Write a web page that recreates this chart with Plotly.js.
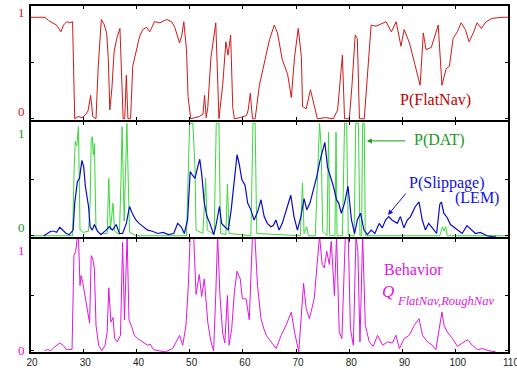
<!DOCTYPE html>
<html>
<head>
<meta charset="utf-8">
<script src="https://cdn.plot.ly/plotly-3.0.1.min.js"></script>
<style>html,body{margin:0;padding:0;background:#fff;}#chart{width:517px;height:374px;}</style>
</head>
<body>
<div id="chart"></div>
<script>
// ---- data ----
const xTicks = [20,30,40,50,60,70,80,90,100,110];

const flatX = [
20,22.8,23.5,24.2,25.0,25.8,26.3,26.9,27.5,28.0,
28.4,29.0,29.8,30.5,30.9,31.4,31.8,32.4,32.8,33.4,
33.9,34.4,34.7,35.0,35.4,35.8,36.3,36.9,37.2,37.5,
37.8,38.1,38.4,38.9,39.3,40.0,40.6,41.2,41.9,42.5,
43.4,44.4,45.7,46.6,47.2,48.1,48.5,48.9,49.4,49.7,
50.2,51.0,51.8,52.5,52.8,53.1,53.4,54.0,54.9,55.3,
55.5,56.2,56.8,57.2,57.7,58.1,58.4,59.5,60.7,61.0,
61.4,61.8,62.3,63.1,64.1,65.0,65.9,66.5,67.4,68.4,
69.1,69.7,70.4,71.0,71.2,71.9,72.7,73.4,74.0,75.5,
77.0,77.8,78.7,79.1,80.0,80.5,81.1,81.5,81.9,82.8,
84.1,85.0,86.0,86.9,87.9,88.8,89.7,90.3,91.3,92.2,
93.3,93.9,94.4,95.4,96.3,96.7,97.4,98.2,98.8,99.5,
100.3,101.0,101.8,102.5,103.3,104.0,104.8,105.7,106.8,108.7,110];
const flatY = [
0.91,0.91,0.88,0.86,0.84,0.78,0.84,0.87,0.86,0.87,
0.00,0.02,0.01,0.04,0.07,0.21,0.02,0.00,0.45,0.89,
0.85,0.77,0.55,0.08,0.28,0.60,0.72,0.81,0.30,0.00,
0.00,0.39,0.00,0.00,0.47,0.62,0.74,0.80,0.82,0.78,
0.87,0.86,0.89,0.87,0.82,0.68,0.74,0.87,0.62,0.20,
0.00,0.01,0.02,0.04,0.21,0.01,0.10,0.55,0.86,0.30,
0.00,0.30,0.69,0.57,0.75,0.10,0.00,0.01,0.03,0.08,
0.23,0.00,0.00,0.30,0.53,0.71,0.84,0.77,0.53,0.40,
0.19,0.55,0.81,0.55,0.11,0.09,0.26,0.11,0.00,0.01,
0.00,0.08,0.57,0.00,0.00,0.30,0.75,0.72,0.00,0.00,
0.84,0.83,0.85,0.87,0.78,0.87,0.65,0.80,0.68,0.50,
0.30,0.77,0.62,0.64,0.77,0.84,0.30,0.45,0.47,0.72,
0.78,0.86,0.80,0.69,0.77,0.86,0.81,0.87,0.90,0.91,0.91];

const datX = [
20,28.0,28.3,28.5,28.8,29.1,29.4,30.0,31.0,31.3,
31.5,31.7,31.9,32.1,32.4,33.0,34.5,34.8,35.1,35.6,
35.9,36.8,37.1,37.3,37.7,38.2,38.7,40.0,49.4,49.7,
50.0,50.6,51.0,51.2,52.5,53.0,53.3,54.6,55.0,55.5,
55.8,56.8,57.1,57.4,61.5,61.9,62.3,62.6,70.8,71.2,
71.5,72.0,72.3,73.6,74.1,74.4,74.7,75.0,75.8,76.1,
76.3,77.3,77.5,77.7,78.7,79.1,79.5,79.8,80.9,81.2,
81.7,82.0,82.3,82.5,82.8,83.0,97.0,97.5,97.8,98.1,
98.4,110];
const datY = [
0,0,0.60,0.84,0.80,0.97,0.05,0.03,0.04,0.30,
0.85,0.88,0.72,0.82,0.05,0.02,0.02,0.51,0.05,0.29,
0.04,0.01,0.50,0.97,0.13,1.00,0.03,0,0,0.60,
1.00,1.00,0.60,0.05,0.02,0.51,0.05,0.01,1.00,1.00,
0.02,0.01,0.46,0.02,0,1.00,1.00,0.02,0,0.47,
0.02,0.08,0,0,0.60,1.00,0.80,0.04,0,0.92,
0,0,0.92,0,0,1.00,1.00,0,0,1.00,
1.00,0,0,1.00,1.00,0,0,0.08,0.04,0.08,
0,0];

const slipX = [
22.6,23.2,23.9,24.5,25.0,25.6,26.2,26.8,27.4,28.1,
28.4,28.9,29.3,29.75,30.1,30.4,31.0,31.3,31.7,32.1,
32.7,33.3,34.3,34.9,35.5,36.2,36.8,37.4,38.1,38.7,
39.3,39.9,40.5,41.2,42.1,43.0,44.0,45.0,46.0,47.0,
47.75,48.4,49.0,49.6,50.1,50.5,51.0,51.5,51.9,52.3,
52.75,53.25,53.8,54.5,54.9,55.6,56.0,56.6,57.25,57.8,
58.4,58.9,59.3,59.8,60.4,60.9,61.5,62.1,62.75,63.4,
64.0,64.6,65.25,65.7,66.2,66.8,67.4,68.1,69.0,69.6,
70.25,70.9,71.5,72.0,72.6,73.25,73.9,74.5,74.9,75.4,
75.9,76.4,77.0,77.6,78.0,78.5,79.1,79.75,80.4,81.0,
81.5,82.1,82.75,83.4,84.1,84.8,85.6,86.2,86.8,87.4,
88.0,89.0,89.6,90.25,90.9,91.5,92.4,93.1,93.7,94.3,
94.9,95.6,96.4,97.0,97.3,97.75,98.4,99.0,99.6,100.4,
101.2,102.1,103.1,103.7,104.6,105.9,107.1,107.6];
const slipY = [
0.00,0.02,0.04,0.04,0.03,0.075,0.05,0.02,0.01,0.05,
0.29,0.48,0.51,0.67,0.61,0.44,0.26,0.08,0.05,0.10,
0.04,0.01,0.05,0.08,0.05,0.10,0.02,0.02,0.11,0.26,
0.19,0.14,0.11,0.08,0.05,0.04,0.02,0.03,0.01,0.02,
0.11,0.08,0.02,0.14,0.57,0.54,0.51,0.61,0.68,0.53,
0.29,0.17,0.11,0.01,0.08,0.26,0.11,0.08,0.05,0.23,
0.50,0.72,0.64,0.50,0.45,0.29,0.23,0.14,0.21,0.32,
0.17,0.11,0.08,0.09,0.14,0.05,0.11,0.23,0.36,0.17,
0.05,0.17,0.33,0.23,0.29,0.41,0.53,0.67,0.75,0.83,
0.61,0.54,0.44,0.32,0.29,0.20,0.29,0.44,0.14,0.02,
0.14,0.20,0.05,0.01,0.05,0.02,0.11,0.07,0.14,0.17,
0.14,0.11,0.17,0.07,0.14,0.17,0.26,0.30,0.14,0.05,
0.11,0.07,0.02,0.28,0.30,0.20,0.16,0.10,0.08,0.05,
0.02,0.09,0.05,0.02,0.03,0.00,-0.01,-0.01];

const behX = [
22.75,23.3,23.9,24.5,25.6,26.2,26.8,27.4,27.9,28.25,
28.6,28.9,29.1,29.4,29.6,29.9,30.25,30.75,31.2,31.5,
31.8,32.1,32.4,32.9,33.5,34.1,34.5,34.8,35.2,35.6,
35.9,36.4,37.0,37.4,37.75,38.25,38.6,39.1,39.6,40.25,
41.2,42.1,42.6,43.2,44.3,45.4,46.8,47.4,48.1,48.7,
49.3,49.75,50.1,50.75,51.2,51.8,52.25,52.75,53.4,54.0,
54.5,54.9,55.25,55.7,56.2,56.6,57.1,57.4,57.9,58.4,
58.9,59.5,59.9,60.6,61.2,61.8,62.25,62.75,63.4,64.0,
64.4,65.3,66.25,67.2,68.1,69.1,69.7,70.5,70.9,71.4,
71.9,72.5,73.4,74.1,74.4,74.9,75.3,75.75,76.25,76.6,
77.2,77.6,78.1,78.6,79.25,79.8,80.2,80.75,81.25,81.6,
82.0,82.5,83.0,83.75,84.5,85.3,86.25,87.2,88.1,88.75,
89.4,90.3,91.25,92.2,93.1,93.75,94.7,95.6,96.25,96.9,
97.4,97.8,98.4,99.4,100.3,101.25,102.2,103.1,104.1,105.0,
106.25,107.5];
const behY = [
0.00,0.013,0.00,0.03,0.07,0.05,0.013,0.01,0.013,0.86,
0.90,1.04,1.04,0.59,0.68,0.62,0.53,0.375,0.25,0.86,
0.83,0.74,0.23,0.05,0.00,0.05,0.17,0.57,0.26,0.30,
0.11,0.08,0.14,0.98,0.28,1.04,0.28,0.22,0.14,0.11,
0.08,0.05,0.06,0.01,0.00,-0.01,0.02,0.08,0.14,0.05,
0.23,0.59,1.04,1.04,0.51,0.69,0.49,0.65,0.26,0.08,
0.00,0.51,1.04,0.49,0.16,0.07,0.50,0.05,0.20,0.53,
0.72,0.65,0.47,0.47,0.28,1.04,1.04,0.59,0.29,0.19,
0.14,0.08,0.02,0.14,0.23,0.35,0.17,-0.01,0.23,0.61,
0.38,0.29,0.47,0.84,1.04,0.78,0.75,0.90,0.78,0.99,
0.50,1.04,0.17,0.11,1.04,1.04,0.20,0.05,1.04,0.90,
0.08,1.04,0.23,0.08,0.04,0.14,0.05,0.08,0.07,0.14,
0.02,0.11,0.14,0.23,0.29,0.14,0.08,0.05,0.01,0.20,
0.35,0.23,0.17,0.11,0.04,0.07,0.10,0.05,0.01,0.02,
0.00,-0.01];

// ---- styling ----
const RED = '#d01818', GREEN = '#3ad83a', BLUE = '#0a0ac8', MAG = '#e014e0';
const SERIF = '"Liberation Serif"';
const D1 = 0.3305, D2 = 0.6667;

const traces = [
  {x: flatX, y: flatY, xaxis: 'x', yaxis: 'y', type: 'scatter', mode: 'lines', line: {color: RED, width: 1}, hoverinfo: 'skip'},
  {x: datX, y: datY, xaxis: 'x2', yaxis: 'y2', type: 'scatter', mode: 'lines', line: {color: GREEN, width: 1}, hoverinfo: 'skip'},
  {x: slipX, y: slipY, xaxis: 'x2', yaxis: 'y2', type: 'scatter', mode: 'lines', line: {color: BLUE, width: 1.2}, hoverinfo: 'skip'},
  {x: behX, y: behY, xaxis: 'x3', yaxis: 'y3', type: 'scatter', mode: 'lines', line: {color: MAG, width: 1}, hoverinfo: 'skip'}
];

const frame = {showline: false, mirror: 'ticks', ticks: 'inside', ticklen: 4,
  tickcolor: '#000', tickwidth: 1, showgrid: false, zeroline: false};
const xBase = Object.assign({}, frame, {range: [20, 110], tickvals: xTicks, showticklabels: false});
const yBase = Object.assign({}, frame, {range: [-0.02, 1.02], tickvals: [0, 0.5], showticklabels: false});

function lab(text, x, y, yref, color, size, extra) {
  return Object.assign({text: text, x: x, y: y, xref: 'x', yref: yref, showarrow: false,
    font: {family: SERIF, size: size, color: color}, xanchor: 'center', yanchor: 'middle'}, extra || {});
}
function ylab(text, y, yref, color) {
  return {text: text, x: -0.017, y: y, xref: 'paper', yref: yref, showarrow: false,
    font: {family: SERIF, size: 13, color: color}, xanchor: 'center', yanchor: 'middle'};
}

const annotations = [
  ylab('1', 0.957, 'y', RED), ylab('0', 0.061, 'y', RED),
  ylab('1', 0.913, 'y2', '#1a9a1a'), ylab('0', 0.069, 'y2', '#1a9a1a'),
  ylab('1', 0.911, 'y3', MAG), ylab('0', 0.007, 'y3', MAG),
  lab('P(FlatNav)', 96.1, 0.168, 'y', '#c00000', 16),
  lab('P(DAT)', 97.0, 0.851, 'y2', '#1a9a1a', 16),
  {text: '', x: 83.3, y: 0.843, xref: 'x', yref: 'y2', showarrow: true, ax: 40, ay: 0,
   arrowcolor: '#1a9a1a', arrowwidth: 1, arrowhead: 2, arrowsize: 1},
  lab('P(Slippage)', 98.35, 0.469, 'y2', '#1010e0', 16),
  lab('(LEM)', 104.0, 0.336, 'y2', '#1010e0', 16),
  {text: '', x: 87.27, y: 0.184, xref: 'x', yref: 'y2', showarrow: true, ax: 19, ay: -23,
   arrowcolor: '#1010e0', arrowwidth: 1, arrowhead: 2, arrowsize: 1},
  lab('Behavior', 91.97, 0.739, 'y3', MAG, 16),
  lab('<i>Q</i>', 87.27, 0.532, 'y3', MAG, 17),
  lab('<i>FlatNav,RoughNav</i>', 88.58, 0.45, 'y3', MAG, 12.5, {xanchor: 'left'})
];

function hline(y) {
  return {type: 'line', xref: 'paper', yref: 'paper', x0: 0, x1: 1, y0: y, y1: y, line: {color: '#000', width: 2}, layer: 'above'};
}
const shapes = [
  {type: 'rect', xref: 'paper', yref: 'paper', x0: 0, x1: 1, y0: 0, y1: 1, line: {color: '#000', width: 2}, layer: 'above'},
  hline(D1), hline(D2)
];

const layout = {
  width: 517, height: 374,
  margin: {l: 30, r: 8, t: 5, b: 21, pad: 0},
  paper_bgcolor: '#fff', plot_bgcolor: '#fff',
  showlegend: false,
  xaxis: Object.assign({}, xBase, {anchor: 'y'}),
  xaxis2: Object.assign({}, xBase, {anchor: 'y2', matches: 'x'}),
  xaxis3: Object.assign({}, xBase, {anchor: 'y3', matches: 'x', showticklabels: true, ticklabelshift: 2,
    ticklabeloverflow: 'allow', ticklabelstandoff: 2,
    tickfont: {family: '"Liberation Sans"', size: 10, color: '#222'}}),
  yaxis: Object.assign({}, yBase, {domain: [D2, 1], anchor: 'x'}),
  yaxis2: Object.assign({}, yBase, {domain: [D1, D2], anchor: 'x2'}),
  yaxis3: Object.assign({}, yBase, {domain: [0, D1], anchor: 'x3'}),
  shapes: shapes,
  annotations: annotations
};

Plotly.newPlot('chart', traces, layout, {displayModeBar: false, staticPlot: true});
</script>
</body>
</html>
